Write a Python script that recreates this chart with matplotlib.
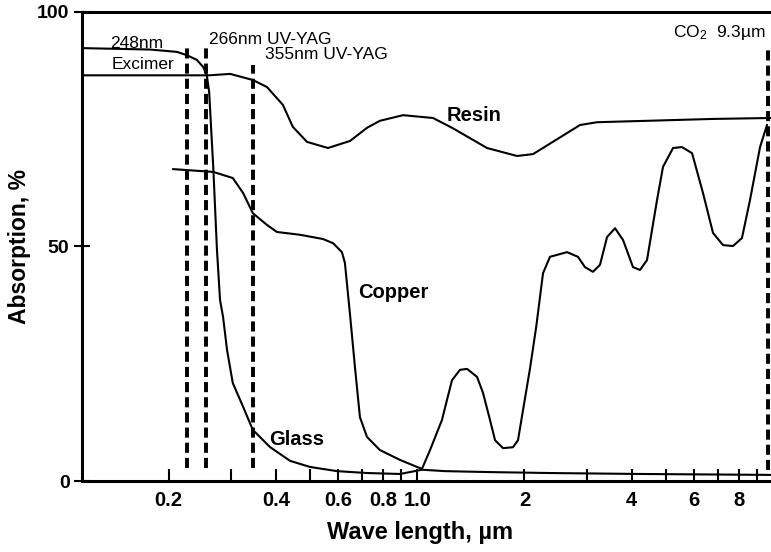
import matplotlib
matplotlib.use("Agg")
import matplotlib.pyplot as plt
from matplotlib.ticker import FixedLocator, FixedFormatter, NullFormatter

plt.rcParams['font.family'] = ['Liberation Sans', 'DejaVu Sans']
plt.rcParams['font.weight'] = 'bold'

# ---- data (wavelength in µm, absorption in %) ----
resin_wl = [0.114, 0.206, 0.260, 0.298, 0.345, 0.378, 0.419, 0.447, 0.490, 0.561,
            0.647, 0.722, 0.785, 0.912, 1.107, 1.260, 1.570, 1.907, 2.115, 2.866,
            3.200, 4.42, 6.78, 9.87]
resin_ab = [86.5, 86.5, 86.5, 86.8, 85.5, 84.0, 80.2, 75.5, 72.3, 71.0,
            72.5, 75.3, 76.8, 78.0, 77.4, 75.2, 71.0, 69.3, 69.7, 75.9,
            76.5, 76.8, 77.2, 77.4]

glass_wl = [0.114, 0.177, 0.211, 0.225, 0.240, 0.250, 0.256, 0.260, 0.267, 0.2735,
            0.279, 0.2845, 0.292, 0.303, 0.324, 0.345, 0.386, 0.439, 0.499, 0.595,
            0.722, 0.894, 1.031, 1.20, 1.60, 2.36, 4.2, 9.87]
glass_ab = [92.3, 92.0, 91.5, 90.8, 89.8, 88.3, 86.6, 83.0, 67.0, 49.3,
            38.6, 35.0, 27.9, 20.9, 15.8, 10.9, 7.2, 4.3, 3.0, 2.1,
            1.7, 1.5, 2.4, 2.1, 1.9, 1.7, 1.5, 1.3]

copper_wl = [0.206, 0.267, 0.303, 0.324, 0.345, 0.378, 0.403, 0.468, 0.543, 0.580,
             0.614, 0.626, 0.647, 0.668, 0.690, 0.722, 0.785, 0.894, 0.998, 1.031,
             1.086, 1.173, 1.212, 1.252, 1.318, 1.380, 1.472, 1.530, 1.601, 1.654,
             1.742, 1.858, 1.919, 1.982, 2.074, 2.160, 2.256, 2.360, 2.635, 2.829,
             2.960, 3.117, 3.262, 3.414, 3.595, 3.786, 4.039, 4.226, 4.422, 4.718,
             4.905, 5.234, 5.546, 5.918, 6.353, 6.778, 7.231, 7.714, 8.175, 8.611,
             9.190, 9.612]
copper_ab = [66.5, 65.9, 64.6, 61.4, 57.1, 54.6, 53.1, 52.5, 51.6, 50.7,
             48.8, 46.5, 35.5, 24.3, 13.6, 9.4, 6.6, 4.5, 3.0, 2.6,
             6.6, 13.0, 17.3, 21.5, 23.7, 23.9, 22.2, 18.8, 13.0, 8.7,
             7.0, 7.2, 8.7, 15.1, 24.0, 33.0, 44.3, 47.8, 48.8, 47.8,
             45.6, 44.6, 46.1, 52.0, 53.9, 51.4, 45.6, 45.0, 47.1, 59.9,
             67.0, 71.0, 71.2, 69.9, 61.4, 52.9, 50.3, 50.1, 51.8, 59.9,
             71.2, 75.9]

laser_wl = [0.2253, 0.2547, 0.3451, 9.676]
laser_top = [92.7, 93.0, 88.7, 92.5]
laser_bottom = [2.8, 2.8, 2.8, 2.3]

x_major = [0.2, 0.4, 0.6, 0.8, 1.0, 2, 4, 6, 8]
x_major_labels = ['0.2', '0.4', '0.6', '0.8', '1.0', '2', '4', '6', '8']
x_minor = [0.3, 0.5, 0.7, 0.9, 3, 5, 7, 9]
y_ticks = [0, 50, 100]

# ---- figure ----
fig = plt.figure(figsize=(7.71, 5.52), dpi=100)
ax = fig.add_axes([82 / 771, 71 / 552, 689 / 771, 469 / 552])

ax.plot(resin_wl, resin_ab, color='black', lw=1.5, solid_joinstyle='round')
ax.plot(glass_wl, glass_ab, color='black', lw=1.5, solid_joinstyle='round')
ax.plot(copper_wl, copper_ab, color='black', lw=1.5, solid_joinstyle='round')

for wl, top, bot in zip(laser_wl, laser_top, laser_bottom):
    ax.plot([wl, wl], [bot, top], color='black', lw=2.8,
            linestyle=(0, (2.6, 1.3)), dash_capstyle='butt')

ax.set_xscale('log')
ax.set_xlim(0.1142, 9.865)
ax.set_ylim(0, 100)

ax.xaxis.set_major_locator(FixedLocator(x_major))
ax.xaxis.set_major_formatter(FixedFormatter(x_major_labels))
ax.xaxis.set_minor_locator(FixedLocator(x_minor))
ax.xaxis.set_minor_formatter(NullFormatter())
ax.set_yticks(y_ticks)
ax.yaxis.set_minor_locator(FixedLocator([]))

ax.tick_params(axis='x', which='both', direction='in', length=9, width=1.5,
               pad=7.5, labelsize=14.5, top=False)
ax.tick_params(axis='y', which='major', direction='inout', length=12, width=1.5,
               pad=3, labelsize=14, right=False)
for lab in ax.get_xticklabels() + ax.get_yticklabels():
    lab.set_fontweight('bold')

for side in ['left', 'bottom', 'top']:
    ax.spines[side].set_linewidth(2.2)
ax.spines['right'].set_visible(False)

# annotations
ann_kw = dict(fontsize=12.5, fontweight='normal', ha='left', va='baseline')
ax.text(0.1369, 92.3, '248nm', **ann_kw)
ax.text(0.1386, 87.8, 'Excimer', **ann_kw)
ax.text(0.2597, 93.2, '266nm UV-YAG', **ann_kw)
ax.text(0.3729, 90.0, '355nm UV-YAG', **ann_kw)
ax.text(5.23, 94.7, r'CO$\mathregular{_2}$  9.3µm', **ann_kw)

lab_kw = dict(fontsize=14.5, fontweight='bold', ha='left', va='baseline')
ax.text(1.2118, 76.8, 'Resin', **lab_kw)
ax.text(0.6814, 39.0, 'Copper', **lab_kw)
ax.text(0.3828, 7.7, 'Glass', **lab_kw)

fig.text(420 / 771, 1 - 539 / 552, 'Wave length, µm', fontsize=17,
         fontweight='bold', ha='center', va='baseline')
fig.text(20 / 771, 1 - 246 / 552, 'Absorption, %', fontsize=16.5,
         fontweight='bold', ha='center', va='center', rotation=90)

fig.savefig('out.png', dpi=100)
